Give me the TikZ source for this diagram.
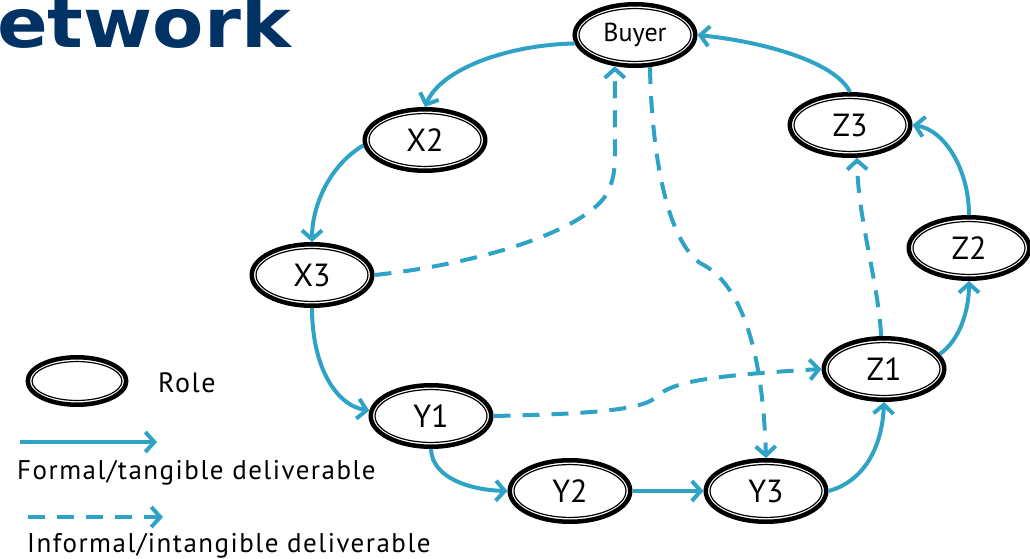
\documentclass[tikz,border=0pt]{standalone}
\usepackage{fontspec}
\setmainfont{PT Sans}
\newfontfamily\legendfont{PT Sans}[LetterSpace=5.5]
\newfontfamily\titlefont{DejaVu Sans}
\usetikzlibrary{shapes.geometric,arrows.meta,calc}
\definecolor{flow}{RGB}{46,163,198}
\definecolor{titleblue}{RGB}{0,50,100}
\tikzset{
  role/.style={ellipse, draw=black, line width=4.5pt, fill=white,
    minimum width=120.5pt, minimum height=61.5pt, inner sep=0pt,
    font=\fontsize{32}{34}\selectfont,
    path picture={\draw[line width=1.2pt] let \p1=($(path picture bounding box.north east)-(path picture bounding box.center)$) in
      (path picture bounding box.center) ellipse [x radius=\x1-4.3pt, y radius=\y1-4.3pt];}},
  formal/.style={draw=flow, line width=4pt, -{Straight Barb[length=9pt,width=20pt]}},
  informal/.style={formal, dash pattern=on 17pt off 12pt},
  legendtext/.style={anchor=base west, inner sep=0pt, font=\legendfont\fontsize{27}{30}\selectfont}
}
\begin{document}
\begin{tikzpicture}[x=1pt,y=1pt]
\useasboundingbox (0,0) rectangle (1030,-559);
\clip (0,0) rectangle (1030,-559);
% title
\node[anchor=base west, inner sep=0pt, text=titleblue, font=\titlefont\bfseries\fontsize{68}{70}\selectfont] (title) at (-3,-48) {\scalebox{1.1}[1]{etwork}};
% roles
\node[role, font=\fontsize{26}{28}\selectfont] (buyer) at (635,-35) {Buyer};
\node[role] (x2) at (425,-140) {X2};
\node[role] (x3) at (312,-275) {X3};
\node[role] (y1) at (431,-416) {Y1};
\node[role] (y2) at (570,-491) {Y2};
\node[role] (y3) at (766,-491) {Y3};
\node[role] (z1) at (884,-369) {Z1};
\node[role] (z2) at (969,-248) {Z2};
\node[role] (z3) at (850,-125) {Z3};
% formal deliverables
\draw[formal] (buyer.188) .. controls (505,-45) and (440,-70) .. (x2.north);
\draw[formal] (x2.185) .. controls (330,-165) and (312,-205) .. (x3.north);
\draw[formal] (x3.south) .. controls (312,-365) and (335,-405) .. (y1.175);
\draw[formal] (y1.south) .. controls (432,-478) and (470,-490) .. (y2.west);
\draw[formal] (y2.east) -- (y3.west);
\draw[formal] (y3.east) .. controls (862,-482) and (882,-450) .. (z1.south);
\draw[formal] (z1.15) .. controls (960,-340) and (969,-310) .. (z2.south);
\draw[formal] (z2.north) .. controls (969,-170) and (945,-130) .. (z3.east);
\draw[formal] (z3.north) .. controls (835,-62) and (765,-42) .. (buyer.east);
% informal deliverables
\draw[informal] (x3.east) .. controls (470,-265) and (575,-235) .. (604,-198) .. controls (614,-183) and (615,-170) .. (615,-150) -- (buyer.237);
\draw[informal] (buyer.295) .. controls (652,-160) and (668,-240) .. (700,-263) .. controls (745,-285) and (763,-360) .. (y3.north);
\draw[informal] (y1.east) .. controls (590,-414) and (640,-410) .. (655,-398) .. controls (670,-383) and (700,-376) .. (z1.west);
\draw[informal] (z1.95) .. controls (878,-280) and (858,-220) .. (z3.282);
% legend
\node[role, minimum width=98.5pt, minimum height=47.5pt] (legrole) at (77,-381) {};
\node[legendtext, font=\legendfont\fontsize{28}{30}\selectfont] (roletext) at (158,-392) {Role};
\coordinate (fa) at (20,-442);
\coordinate (fb) at (157,-442);
\draw[formal] (fa) -- (fb);
\node[legendtext] (formaltext) at (17,-479) {Formal/tangible deliverable};
\coordinate (ia) at (28,-517);
\coordinate (ib) at (163,-517);
\draw[informal] (ia) -- (ib);
\node[legendtext] (informaltext) at (27,-552) {Informal/intangible deliverable};
\end{tikzpicture}
\end{document}
